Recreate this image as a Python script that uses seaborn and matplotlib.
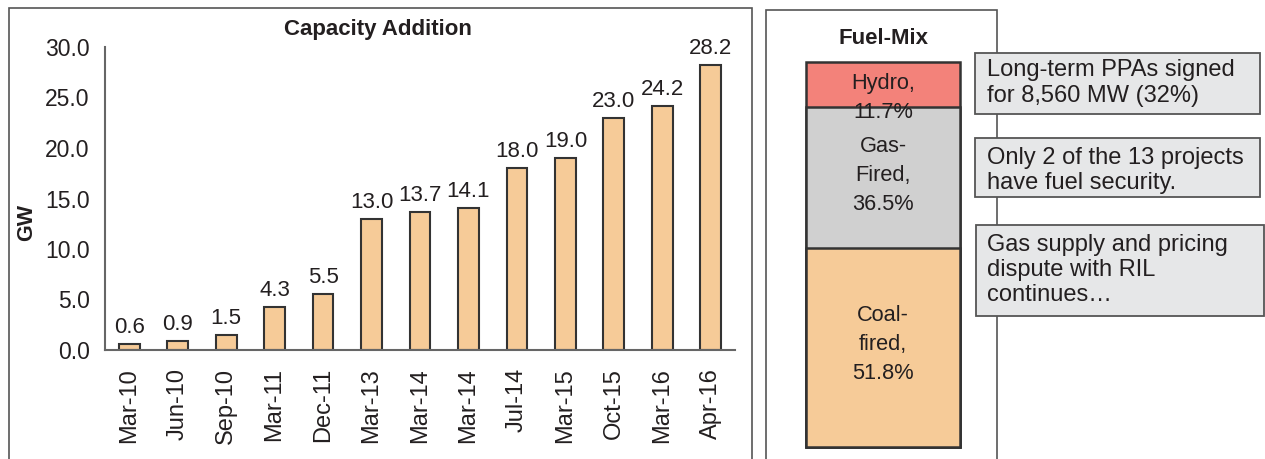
import matplotlib
matplotlib.use("Agg")
import matplotlib.pyplot as plt
from matplotlib.patches import Rectangle
import seaborn as sns
import pandas as pd

periods = ["Mar-10", "Jun-10", "Sep-10", "Mar-11", "Dec-11", "Mar-13", "Mar-14",
           "Mar-14 ", "Jul-14", "Mar-15", "Oct-15", "Mar-16", "Apr-16"]
capacity_gw = [0.6, 0.9, 1.5, 4.3, 5.5, 13.0, 13.7, 14.1, 18.0, 19.0, 23.0, 24.2, 28.2]

fuels = ["Coal-\nfired,\n51.8%", "Gas-\nFired,\n36.5%", "Hydro,\n11.7%"]
fuel_share = [51.8, 36.5, 11.7]
fuel_colors = ["#f6cb98", "#d0d0d0", "#f3827a"]

notes = ["Long-term PPAs signed\nfor 8,560 MW (32%)",
         "Only 2 of the 13 projects\nhave fuel security.",
         "Gas supply and pricing\ndispute with RIL\ncontinues\u2026"]

sns.set_theme(style="white")
plt.rcParams["font.family"] = ["Liberation Sans", "DejaVu Sans"]
txt = "#231f20"
W, H = 1265, 459
fig = plt.figure(figsize=(W / 100, H / 100), dpi=100)

def fx(px):
    return px / W

def fy(py):
    return 1 - py / H

# panel frames
for x0, y0, x1 in [(9, 8, 752), (766, 10, 997)]:
    fig.patches.append(Rectangle((fx(x0), fy(H + 5)), fx(x1 - x0), fy(y0) - fy(H + 5),
                                 transform=fig.transFigure, fill=False,
                                 edgecolor="#555555", lw=1.2))

# capacity bars
ax = fig.add_axes([fx(105), fy(350), fx(735 - 105), fy(47) - fy(350)])
df = pd.DataFrame({"period": periods, "gw": capacity_gw})
sns.barplot(data=df, x="period", y="gw", color="#f6cb98", edgecolor="#333333",
            linewidth=1.5, width=0.43, saturation=1, ax=ax)
ax.set_xlim(-0.5, 12.5)
ax.set_ylim(0, 30)
ax.set_yticks([0, 5, 10, 15, 20, 25, 30])
ax.set_yticklabels([f"{v:.1f}" for v in [0, 5, 10, 15, 20, 25, 30]])
ax.set_xticks(range(len(periods)))
ax.set_xticklabels([p.strip() for p in periods], rotation=90)
ax.tick_params(axis="y", length=0, pad=11, labelsize=16.5, colors=txt)
ax.tick_params(axis="x", length=0, pad=13, labelsize=17, colors=txt)
ax.set_xlabel("")
ax.set_ylabel("")
for s in ["top", "right"]:
    ax.spines[s].set_visible(False)
for s in ["left", "bottom"]:
    ax.spines[s].set_color("#666666")
    ax.spines[s].set_linewidth(1.5)
for i, v in enumerate(capacity_gw):
    ax.text(i, v + 0.6, f"{v:.1f}", ha="center", va="bottom", fontsize=16, color=txt)

fig.text(fx(378), fy(30), "Capacity Addition", ha="center", va="center",
         fontsize=16, fontweight="bold", color=txt)
fig.text(fx(27), fy(222), "GW", ha="center", va="center", rotation=90,
         fontsize=15.5, fontweight="bold", color=txt)

# fuel mix stacked bar (drawn as overlaid cumulative bars)
ax2 = fig.add_axes([fx(806), fy(447), fx(960 - 806), fy(62) - fy(447)])
cum = []
total = 0
for v in fuel_share:
    total += v
    cum.append(total)
for c, col in reversed(list(zip(cum, fuel_colors))):
    sns.barplot(x=["mix"], y=[c], color=col, edgecolor="#333333", linewidth=1.8,
                width=1.0, saturation=1, ax=ax2)
for p in ax2.patches:
    p.set_clip_on(False)
ax2.set_xlim(-0.5, 0.5)
ax2.set_ylim(0, 100)
ax2.axis("off")
ax2.text(0, 26.5, fuels[0], ha="center", va="center", fontsize=15.7,
         color=txt, linespacing=1.5)
ax2.text(0, 70.4, fuels[1], ha="center", va="center", fontsize=15.7,
         color=txt, linespacing=1.5)
ax2.text(0, 97.2, fuels[2], ha="center", va="top", fontsize=15.7,
         color=txt, linespacing=1.5)
fig.text(fx(883), fy(38), "Fuel-Mix", ha="center", va="center",
         fontsize=16, fontweight="bold", color=txt)

# note boxes
boxes = [(975, 53, 1260, 114, 83), (975, 138, 1260, 197, 170.5),
         (976, 225, 1264, 316, 270)]
for (x0, y0, x1, y1, yc), note in zip(boxes, notes):
    fig.patches.append(Rectangle((fx(x0), fy(y1)), fx(x1 - x0), fy(y0) - fy(y1),
                                 transform=fig.transFigure, facecolor="#e6e7e8",
                                 edgecolor="#555555", lw=1.3))
    fig.text(fx(987), fy(yc), note, ha="left", va="center", fontsize=17,
             color=txt, linespacing=1.2)

fig.savefig("out.png", dpi=100, facecolor="white")
